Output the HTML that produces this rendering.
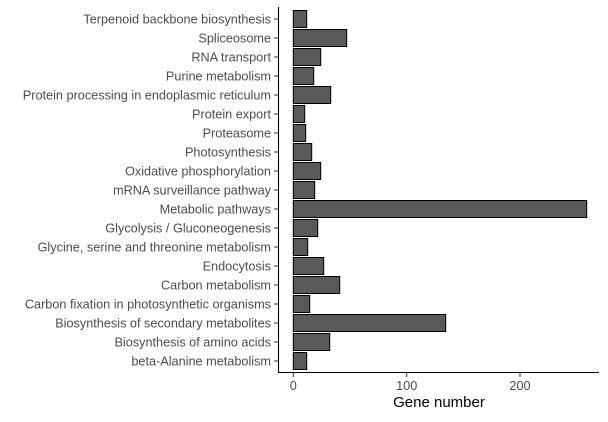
<!DOCTYPE html>
<html><head><meta charset="utf-8"><style>html,body{margin:0;padding:0;background:#fff}</style></head>
<body>
<svg width="608" height="417" xmlns="http://www.w3.org/2000/svg" font-family="Liberation Sans, sans-serif">
<rect width="608" height="417" fill="#fff"/>
<g id="bars" fill="#595959" stroke="#000" stroke-width="1">
<rect x="293.3" y="10.5" width="13.4" height="17"/>
<rect x="293.3" y="29.5" width="53.4" height="17"/>
<rect x="293.3" y="48.5" width="27.4" height="17"/>
<rect x="293.3" y="67.5" width="20.4" height="17"/>
<rect x="293.3" y="86.5" width="37.4" height="17"/>
<rect x="293.3" y="105.5" width="11.4" height="17"/>
<rect x="293.3" y="124.5" width="12.4" height="17"/>
<rect x="293.3" y="143.5" width="18.4" height="17"/>
<rect x="293.3" y="162.5" width="27.4" height="17"/>
<rect x="293.3" y="181.5" width="21.4" height="17"/>
<rect x="293.3" y="200.5" width="293.4" height="17"/>
<rect x="293.3" y="219.5" width="24.4" height="17"/>
<rect x="293.3" y="238.5" width="14.4" height="17"/>
<rect x="293.3" y="257.5" width="30.4" height="17"/>
<rect x="293.3" y="276.5" width="46.4" height="17"/>
<rect x="293.3" y="295.5" width="16.4" height="17"/>
<rect x="293.3" y="314.5" width="152.4" height="17"/>
<rect x="293.3" y="333.5" width="36.4" height="17"/>
<rect x="293.3" y="352.5" width="13.4" height="17"/>
</g>
<g stroke="#000" stroke-width="1.1">
<line x1="278.5" y1="7" x2="278.5" y2="372.5"/>
<line x1="278" y1="372.5" x2="599" y2="372.5"/>
</g>
<g stroke="#333" stroke-width="1">
<line x1="274" x2="278" y1="19" y2="19"/><line x1="274" x2="278" y1="38" y2="38"/><line x1="274" x2="278" y1="57" y2="57"/><line x1="274" x2="278" y1="76" y2="76"/><line x1="274" x2="278" y1="95" y2="95"/><line x1="274" x2="278" y1="114" y2="114"/><line x1="274" x2="278" y1="133" y2="133"/><line x1="274" x2="278" y1="152" y2="152"/><line x1="274" x2="278" y1="171" y2="171"/><line x1="274" x2="278" y1="190" y2="190"/><line x1="274" x2="278" y1="209" y2="209"/><line x1="274" x2="278" y1="228" y2="228"/><line x1="274" x2="278" y1="247" y2="247"/><line x1="274" x2="278" y1="266" y2="266"/><line x1="274" x2="278" y1="285" y2="285"/><line x1="274" x2="278" y1="304" y2="304"/><line x1="274" x2="278" y1="323" y2="323"/><line x1="274" x2="278" y1="342" y2="342"/><line x1="274" x2="278" y1="361" y2="361"/>
<line x1="293.3" x2="293.3" y1="373" y2="377"/><line x1="406.7" x2="406.7" y1="373" y2="377"/><line x1="520" x2="520" y1="373" y2="377"/>
</g>
<g font-size="12.7" fill="#4d4d4d" text-anchor="end">
<text x="271" y="23.5">Terpenoid backbone biosynthesis</text>
<text x="271" y="42.5">Spliceosome</text>
<text x="271" y="61.5">RNA transport</text>
<text x="271" y="80.5">Purine metabolism</text>
<text x="271" y="99.5">Protein processing in endoplasmic reticulum</text>
<text x="271" y="118.5">Protein export</text>
<text x="271" y="137.5">Proteasome</text>
<text x="271" y="156.5">Photosynthesis</text>
<text x="271" y="175.5">Oxidative phosphorylation</text>
<text x="271" y="194.5">mRNA surveillance pathway</text>
<text x="271" y="213.5">Metabolic pathways</text>
<text x="271" y="232.5">Glycolysis / Gluconeogenesis</text>
<text x="271" y="251.5">Glycine, serine and threonine metabolism</text>
<text x="271" y="270.5">Endocytosis</text>
<text x="271" y="289.5">Carbon metabolism</text>
<text x="271" y="308.5">Carbon fixation in photosynthetic organisms</text>
<text x="271" y="327.5">Biosynthesis of secondary metabolites</text>
<text x="271" y="346.5">Biosynthesis of amino acids</text>
<text x="271" y="365.5">beta-Alanine metabolism</text>
</g>
<g font-size="12.7" fill="#4d4d4d" text-anchor="middle">
<text x="293.3" y="390">0</text><text x="406.7" y="390">100</text><text x="520" y="390">200</text>
</g>
<text x="439" y="407" font-size="15" text-anchor="middle" fill="#000">Gene number</text>
</svg>
</body></html>
